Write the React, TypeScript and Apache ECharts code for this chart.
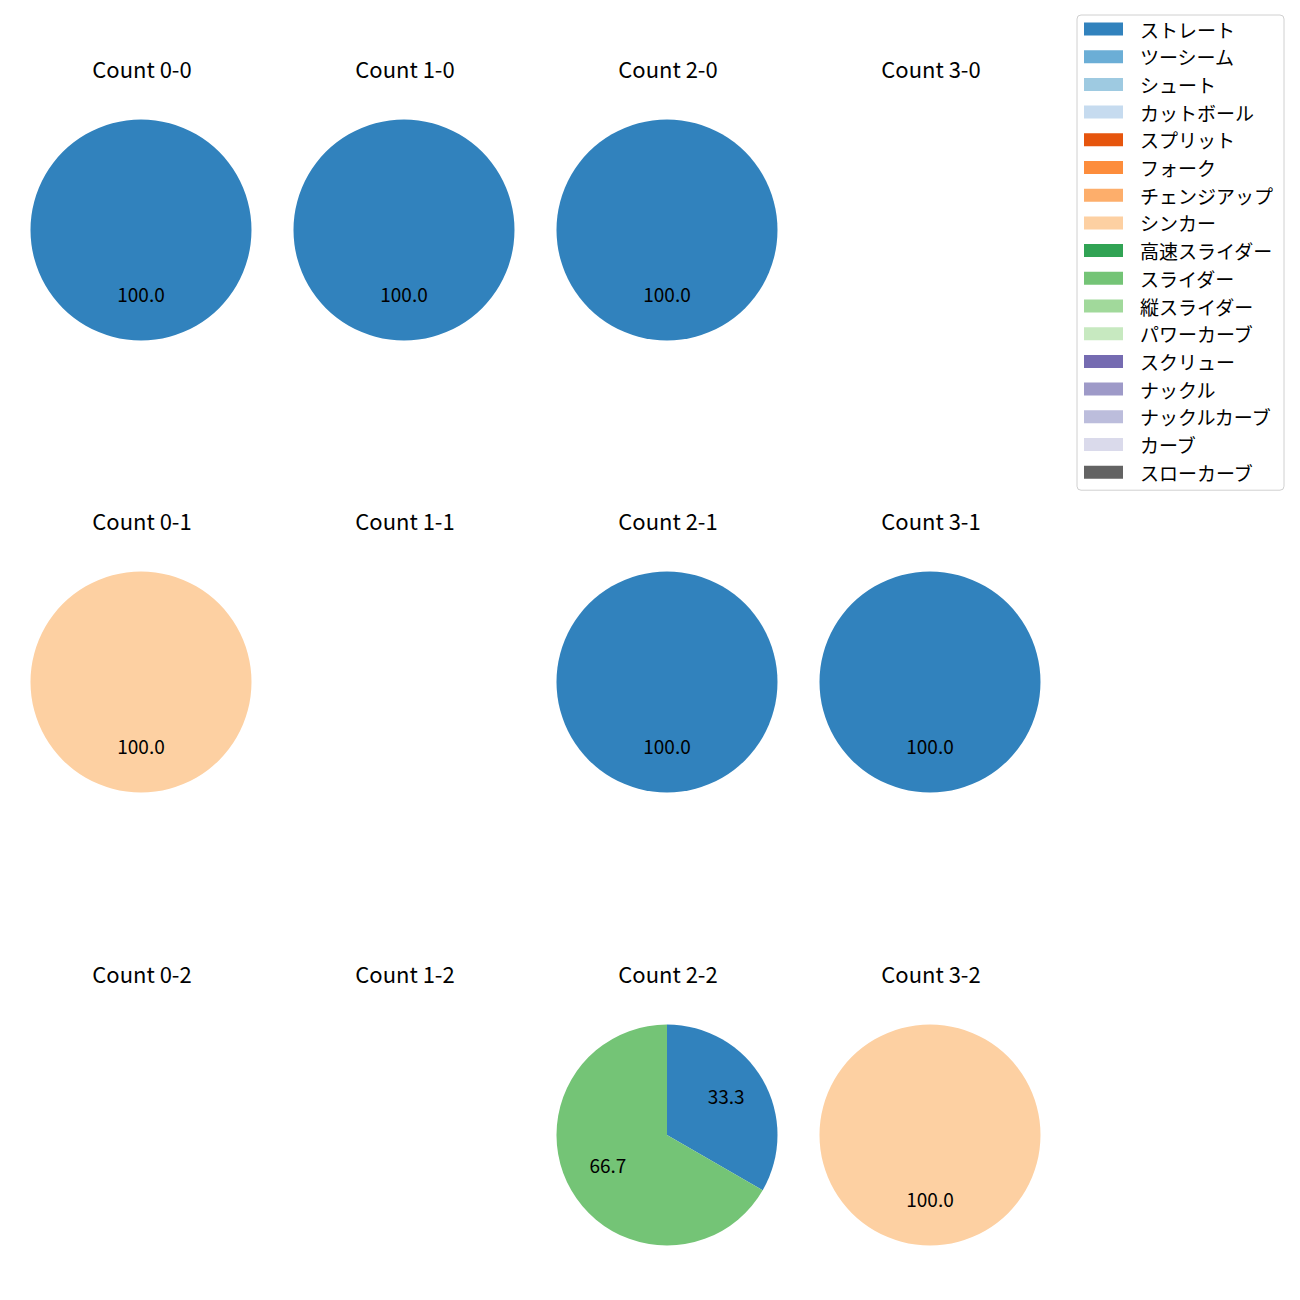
import React, { useEffect, useRef } from "react";
import * as echarts from "echarts";

const categories = [
  "ストレート", "ツーシーム", "シュート", "カットボール", "スプリット", "フォーク",
  "チェンジアップ", "シンカー", "高速スライダー", "スライダー", "縦スライダー",
  "パワーカーブ", "スクリュー", "ナックル", "ナックルカーブ", "カーブ", "スローカーブ",
];
const palette = [
  "#3182bd", "#6baed6", "#9ecae1", "#c6dbef", "#e6550d", "#fd8d3c", "#fdae6b",
  "#fdd0a2", "#31a354", "#74c476", "#a1d99b", "#c7e9c0", "#756bb1", "#9e9ac8",
  "#bcbddc", "#dadaeb", "#636363",
];

// counts per ball-strike cell: [pitch type, count]
const count00: [string, number][] = [["ストレート", 1]];
const count10: [string, number][] = [["ストレート", 1]];
const count20: [string, number][] = [["ストレート", 1]];
const count30: [string, number][] = [];
const count01: [string, number][] = [["シンカー", 1]];
const count11: [string, number][] = [];
const count21: [string, number][] = [["ストレート", 1]];
const count31: [string, number][] = [["ストレート", 1]];
const count02: [string, number][] = [];
const count12: [string, number][] = [];
const count22: [string, number][] = [["ストレート", 1], ["スライダー", 2]];
const count32: [string, number][] = [["シンカー", 1]];

const cells = [
  { title: "Count 0-0", data: count00, col: 0, row: 0 },
  { title: "Count 1-0", data: count10, col: 1, row: 0 },
  { title: "Count 2-0", data: count20, col: 2, row: 0 },
  { title: "Count 3-0", data: count30, col: 3, row: 0 },
  { title: "Count 0-1", data: count01, col: 0, row: 1 },
  { title: "Count 1-1", data: count11, col: 1, row: 1 },
  { title: "Count 2-1", data: count21, col: 2, row: 1 },
  { title: "Count 3-1", data: count31, col: 3, row: 1 },
  { title: "Count 0-2", data: count02, col: 0, row: 2 },
  { title: "Count 1-2", data: count12, col: 1, row: 2 },
  { title: "Count 2-2", data: count22, col: 2, row: 2 },
  { title: "Count 3-2", data: count32, col: 3, row: 2 },
];

const FONT = "'Noto Sans CJK JP', 'Noto Sans', sans-serif";
const colX = [141, 404, 667, 930];
const rowY = [230, 682, 1135];
const R = 110.5;

export default function App() {
  const ref = useRef<HTMLDivElement>(null);
  useEffect(() => {
    document.body.style.margin = "0";
    const chart = echarts.init(ref.current!, null, { renderer: "svg" });
    const titles: any[] = [];
    const series: any[] = [];
    const labelSeries: any[] = [];
    cells.forEach((c) => {
      const cx = colX[c.col];
      const cy = rowY[c.row];
      titles.push({
        text: c.title,
        left: cx - 4,
        top: cy - 178.5,
        textAlign: "center",
        textStyle: { fontFamily: FONT, fontSize: 22, fontWeight: "normal", color: "#000" },
      });
      if (c.data.length === 0) return;
      const m = new Map(c.data);
      const data = categories.map((name) => ({ name, value: m.get(name) ?? 0 }));
      series.push({
        type: "pie",
        center: [cx, cy],
        radius: [0, R],
        startAngle: 90,
        clockwise: true,
        silent: true,
        data,
        label: { show: false },
        labelLine: { show: false },
        itemStyle: { borderWidth: 0 },
        emphasis: { disabled: true },
      });
      // invisible companion pie that only carries the percentage labels
      labelSeries.push({
        type: "pie",
        center: [cx, cy - 5],
        radius: [20, R],
        startAngle: 90,
        clockwise: true,
        silent: true,
        data,
        itemStyle: { color: "rgba(0,0,0,0)", borderWidth: 0 },
        label: {
          show: true,
          position: "inside",
          fontFamily: FONT,
          fontSize: 19,
          color: "#000",
          formatter: (p: any) => (p.value > 0 ? p.percent.toFixed(1) : ""),
        },
        labelLine: { show: false },
        emphasis: { disabled: true },
      });
    });
    chart.setOption({
      animation: false,
      color: palette,
      title: titles,
      legend: {
        orient: "vertical",
        left: 1077,
        top: 15,
        data: categories,
        selectedMode: false,
        itemWidth: 39,
        itemHeight: 13,
        itemGap: 7.7,
        padding: [4, 11, 8, 7],
        borderColor: "#d0d0d0",
        borderWidth: 1,
        borderRadius: 4,
        backgroundColor: "rgba(255,255,255,0.8)",
        icon: "rect",
        textStyle: {
          fontFamily: FONT,
          fontSize: 19,
          color: "#000",
          lineHeight: 20,
          padding: [0, 0, 0, 12],
        },
      },
      series: [...series, ...labelSeries],
    });
    return () => chart.dispose();
  }, []);
  return <div ref={ref} style={{ width: 1300, height: 1300 }} />;
}
